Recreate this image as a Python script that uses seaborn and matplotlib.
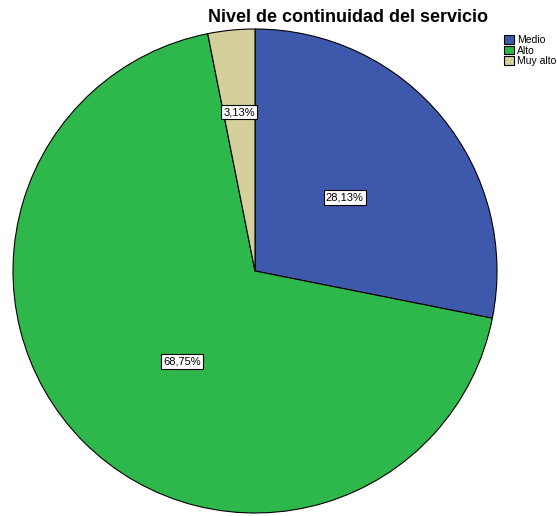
import numpy as np
import matplotlib
matplotlib.use("Agg")
import matplotlib.pyplot as plt
import seaborn as sns

categories = ["Medio", "Alto", "Muy alto"]
percentages = [28.13, 68.75, 3.13]
colors = ["#3e58ab", "#2eb84b", "#d4cf9b"]
title = "Nivel de continuidad del servicio"

sns.set_theme(style="white")
plt.rcParams["font.family"] = ["Liberation Sans", "DejaVu Sans"]
plt.rcParams["text.color"] = "black"

W, H = 557, 516
fig = plt.figure(figsize=(W / 100, H / 100), dpi=100)
cx, cy, r = 255, 271, 242
ax = fig.add_axes([(cx - r) / W, (H - cy - r) / H, 2 * r / W, 2 * r / H])

wedges, _ = ax.pie(
    percentages,
    colors=sns.color_palette(colors),
    startangle=90,
    counterclock=False,
    radius=1,
    wedgeprops=dict(edgecolor="black", linewidth=0.8),
)
ax.set_xlim(-1, 1)
ax.set_ylim(-1, 1)
ax.set_aspect("equal")
ax.axis("off")

# percentage labels in white boxes, at a per-slice distance from the centre
label_dist = [0.48, 0.48, 0.66]
label_shift = [0, 6, 0]
for w, p, d, s in zip(wedges, percentages, label_dist, label_shift):
    ang = np.deg2rad((w.theta1 + w.theta2) / 2 + s)
    txt = f"{p:.2f}".replace(".", ",") + "%"
    ax.text(d * np.cos(ang), d * np.sin(ang), txt, ha="center", va="center",
            fontsize=8, color="black",
            bbox=dict(boxstyle="square,pad=0.2", facecolor="white",
                      edgecolor="black", linewidth=0.8))

fig.text(348 / W, 1 - 17 / H, title, ha="center", va="center",
         fontsize=13, fontweight="bold", color="black")

leg = fig.legend(wedges, categories, loc="upper left",
                 bbox_to_anchor=(499 / W, 1 - 30 / H), frameon=False,
                 fontsize=7.5, handlelength=0.9, handleheight=0.9,
                 handletextpad=0.3, labelspacing=0.05, borderpad=0)
for t in leg.get_texts():
    t.set_color("black")

fig.savefig("out.png", dpi=100)
